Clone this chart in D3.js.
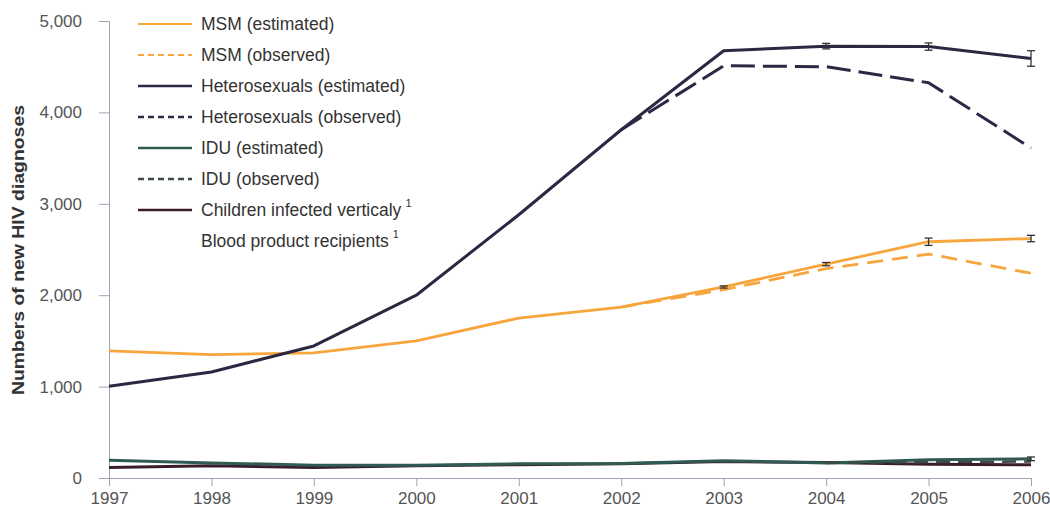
<!DOCTYPE html>
<html>
<head>
<meta charset="utf-8">
<script src="https://cdn.jsdelivr.net/npm/d3@7"></script>
<style>
  html, body { margin: 0; padding: 0; background: #fff; }
  svg { display: block; font-family: "Liberation Sans", Arial, sans-serif; }
</style>
</head>
<body>
<svg id="chart" width="1050" height="514"></svg>
<script>
// Years on the x axis
const years = [1997, 1998, 1999, 2000, 2001, 2002, 2003, 2004, 2005, 2006];

// New HIV diagnoses by exposure group
const msmEstimated   = [1390, 1350, 1370, 1500, 1750, 1870, 2090, 2340, 2585, 2620];
const msmObserved    = [null, null, null, null, null, 1870, 2060, 2290, 2450, 2240];
const hetEstimated   = [1005, 1160, 1445, 2000, 2880, 3810, 4675, 4725, 4720, 4590];
const hetObserved    = [null, null, null, null, null, 3810, 4510, 4500, 4325, 3610];
const iduEstimated   = [195, 165, 140, 140, 155, 160, 190, 165, 200, 210];
const iduObserved    = [null, null, null, null, null, null, null, 165, 175, 180];
const childrenVert   = [115, 135, 115, 135, 145, 155, 180, 170, 150, 145];

// Uncertainty half-widths for the estimated series
const msmError = [0, 0, 0, 0, 0, 0, 12, 18, 40, 35];
const hetError = [0, 0, 0, 0, 0, 0, 0, 30, 40, 85];
const iduError = [0, 0, 0, 0, 0, 0, 0, 0, 0, 20];

const yTicks = [0, 1000, 2000, 3000, 4000, 5000];

const legendLabels = [
  "MSM (estimated)",
  "MSM (observed)",
  "Heterosexuals (estimated)",
  "Heterosexuals (observed)",
  "IDU (estimated)",
  "IDU (observed)",
  "Children infected verticaly",
  "Blood product recipients"
];

const svg = d3.select("#chart");

const x = d3.scaleLinear().domain([1997, 2006]).range([109, 1031]);
const y = d3.scaleLinear().domain([0, 5000]).range([478, 21]);

const axisColor = "#9ca3b4";
const tickTextColor = "#555";

// Y axis
const yAxis = svg.append("g")
  .attr("transform", "translate(109,0)")
  .call(d3.axisLeft(y).tickValues(yTicks).tickSize(10).tickSizeOuter(0).tickPadding(17)
    .tickFormat(d3.format(",")));
yAxis.select(".domain").attr("stroke", axisColor);
yAxis.selectAll(".tick line").attr("stroke", axisColor);
yAxis.selectAll(".tick text")
  .attr("fill", tickTextColor).attr("font-size", 17)
  .attr("font-family", "Liberation Sans, Arial, sans-serif");

// X axis
const xAxis = svg.append("g")
  .attr("transform", "translate(0,478)")
  .call(d3.axisBottom(x).tickValues(years).tickSize(8).tickSizeOuter(0).tickPadding(6)
    .tickFormat(d3.format("d")));
xAxis.select(".domain").attr("stroke", axisColor);
xAxis.selectAll(".tick line").attr("stroke", axisColor);
xAxis.selectAll(".tick text")
  .attr("fill", tickTextColor).attr("font-size", 17)
  .attr("font-family", "Liberation Sans, Arial, sans-serif");

// Y axis title
svg.append("text")
  .attr("transform", "translate(24,250) rotate(-90)")
  .attr("text-anchor", "middle")
  .attr("font-size", 17)
  .attr("font-weight", "bold")
  .attr("fill", "#333")
  .attr("textLength", 290)
  .attr("lengthAdjust", "spacingAndGlyphs")
  .text("Numbers of new HIV diagnoses");

const colors = {
  msm: "#f8a53e",
  het: "#2a2944",
  idu: "#2f5b52",
  child: "#3a1d2c"
};

const line = d3.line()
  .defined(d => d[1] != null)
  .x(d => x(d[0]))
  .y(d => y(d[1]));

function drawSeries(values, color, width, dash) {
  svg.append("path")
    .datum(years.map((yr, i) => [yr, values[i]]))
    .attr("fill", "none")
    .attr("stroke", color)
    .attr("stroke-width", width)
    .attr("stroke-linejoin", "round")
    .attr("stroke-dasharray", dash || null)
    .attr("d", line);
}

function drawErrors(values, errors) {
  const g = svg.append("g").attr("stroke", "#333").attr("stroke-width", 1.3);
  years.forEach((yr, i) => {
    const e = errors[i];
    if (!e) return;
    const cx = x(yr);
    g.append("line").attr("x1", cx).attr("x2", cx)
      .attr("y1", y(values[i] - e)).attr("y2", y(values[i] + e));
    g.append("line").attr("x1", cx - 4).attr("x2", cx + 4)
      .attr("y1", y(values[i] - e)).attr("y2", y(values[i] - e));
    g.append("line").attr("x1", cx - 4).attr("x2", cx + 4)
      .attr("y1", y(values[i] + e)).attr("y2", y(values[i] + e));
  });
}

// Small-count groups near the baseline
drawSeries(childrenVert, colors.child, 3);
drawSeries(iduEstimated, colors.idu, 3);
drawSeries(iduObserved, "#3b4a44", 2.5, "14,8");
drawErrors(iduEstimated, iduError);

// MSM
drawSeries(msmObserved, colors.msm, 2.8, "16,9");
drawSeries(msmEstimated, colors.msm, 2.8);
drawErrors(msmEstimated, msmError);

// Heterosexuals
drawSeries(hetObserved, colors.het, 3, "24,8");
drawSeries(hetEstimated, colors.het, 3);
drawErrors(hetEstimated, hetError);

// Legend
const legendStyles = [
  { color: colors.msm, dash: null, w: 2 },
  { color: colors.msm, dash: "6,4", w: 2 },
  { color: colors.het, dash: null, w: 2.5 },
  { color: colors.het, dash: "6,4", w: 2.5 },
  { color: colors.idu, dash: null, w: 2.5 },
  { color: "#3b4a44", dash: "6,4", w: 2.5 },
  { color: colors.child, dash: null, w: 2.5 },
  null
];
const superscripts = [null, null, null, null, null, null, "1", "1"];

const legend = svg.append("g");
legendLabels.forEach((label, i) => {
  const ly = 24 + i * 31;
  const st = legendStyles[i];
  if (st) {
    legend.append("line")
      .attr("x1", 138).attr("x2", 192)
      .attr("y1", ly).attr("y2", ly)
      .attr("stroke", st.color)
      .attr("stroke-width", st.w)
      .attr("stroke-dasharray", st.dash);
  }
  const t = legend.append("text")
    .attr("x", 201).attr("y", ly + 6)
    .attr("font-size", 17.5)
    .attr("fill", "#333")
    .text(label);
  if (superscripts[i]) {
    t.append("tspan")
      .attr("dx", 4).attr("dy", -9)
      .attr("font-size", 11)
      .attr("fill", "#333")
      .text(superscripts[i]);
  }
});
</script>
</body>
</html>
